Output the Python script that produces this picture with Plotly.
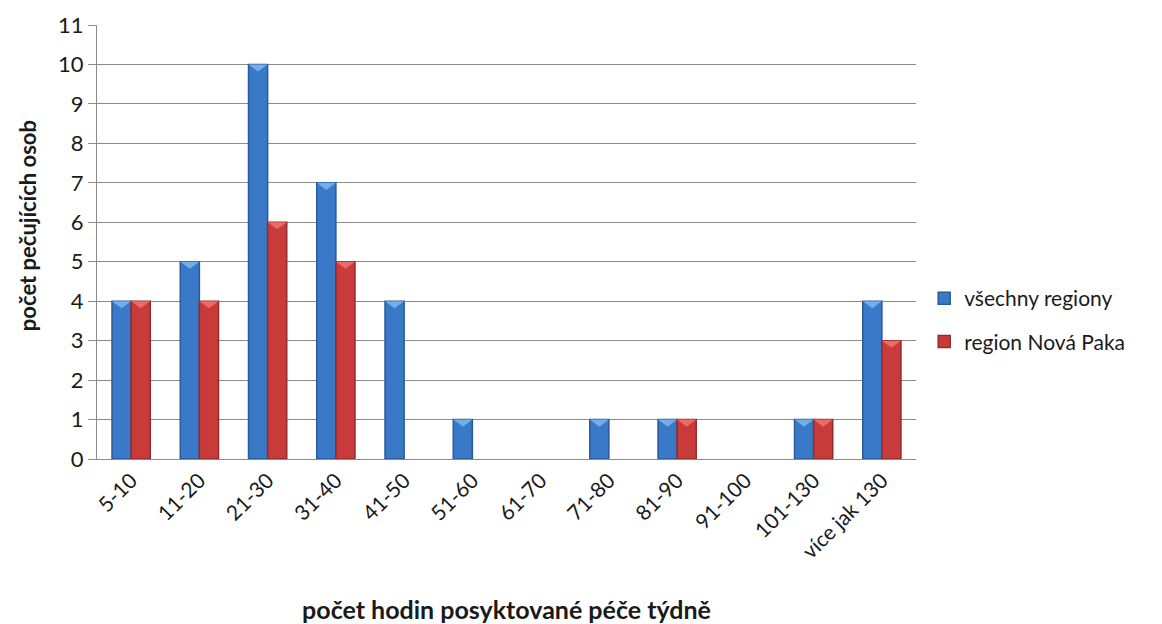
import plotly.graph_objects as go

categories = ["5-10", "11-20", "21-30", "31-40", "41-50", "51-60", "61-70",
              "71-80", "81-90", "91-100", "101-130", "více jak 130"]
vsechny_regiony = [4, 5, 10, 7, 4, 1, 0, 1, 1, 0, 1, 4]
region_nova_paka = [4, 4, 6, 5, 0, 0, 0, 0, 1, 0, 1, 3]

FONT = "Lato, 'Open Sans', sans-serif"
BAR_W = 0.28          # width of one bar in category units
TIP_DEPTH = 0.18      # depth of the bevel highlight, in y units

positions = list(range(len(categories)))


def edge_widths(values):
    # no outline on empty bars, so they don't leave a stub on the axis
    return [1.5 if v else 0 for v in values]


def bevel(values, shift):
    # light downward wedge across the top of each non-empty bar
    xs, ys = [], []
    for p, v in zip(positions, values):
        if not v:
            continue
        c = p + shift
        xs += [c - BAR_W / 2, c + BAR_W / 2, c, c - BAR_W / 2, None]
        ys += [v, v, v - TIP_DEPTH, v, None]
    return xs, ys


series = [
    ("všechny regiony", vsechny_regiony, -BAR_W / 2, "#3a79c8", "#2a5a98", "#72aeea"),
    ("region Nová Paka", region_nova_paka, BAR_W / 2, "#c83b3a", "#952b2a", "#e96c6a"),
]

fig = go.Figure()
for name, vals, shift, fill, edge, light in series:
    fig.add_trace(go.Bar(
        x=[p + shift for p in positions], y=vals, name=name, width=BAR_W,
        marker=dict(color=fill, line=dict(color=edge, width=edge_widths(vals))),
        legendgroup=name,
    ))
for name, vals, shift, fill, edge, light in series:
    bx, by = bevel(vals, shift)
    fig.add_trace(go.Scatter(
        x=bx, y=by, mode="lines", fill="toself", fillcolor=light,
        line=dict(width=0, color=light), hoverinfo="skip", showlegend=False,
    ))

fig.update_layout(
    width=1162, height=624,
    margin=dict(l=97, r=246, t=25, b=165),
    paper_bgcolor="white", plot_bgcolor="white",
    barmode="overlay",
    font=dict(family=FONT, size=21, color="#1a1a1a"),
    legend=dict(x=1.01, y=0.32, yanchor="middle", xanchor="left",
                font=dict(size=21), itemwidth=30, tracegroupgap=13),
    xaxis=dict(
        title=dict(text="<b>počet hodin posyktované péče týdně</b>",
                   font=dict(size=25), standoff=40),
        range=[-0.5, len(categories) - 0.5],
        tickmode="array", tickvals=positions, ticktext=categories,
        tickangle=-45, showline=True, linecolor="#8c8c8c", linewidth=1,
        showgrid=False, zeroline=False,
        ticks="", tickfont=dict(size=21), automargin=False,
    ),
    yaxis=dict(
        range=[0, 11], dtick=1, showgrid=True, gridcolor="#8c8c8c",
        gridwidth=1, showline=True, linecolor="#8c8c8c", linewidth=1,
        ticks="outside", ticklen=8, tickcolor="#8c8c8c", tickfont=dict(size=22),
        zeroline=False, automargin=False,
    ),
    annotations=[dict(
        text="<b>počet pečujících osob</b>", textangle=-90,
        xref="paper", yref="paper", x=-0.084, y=0.537,
        xanchor="center", yanchor="middle", showarrow=False,
        font=dict(size=22, family=FONT, color="#1a1a1a"),
    )],
)

fig.write_html("out.html")
